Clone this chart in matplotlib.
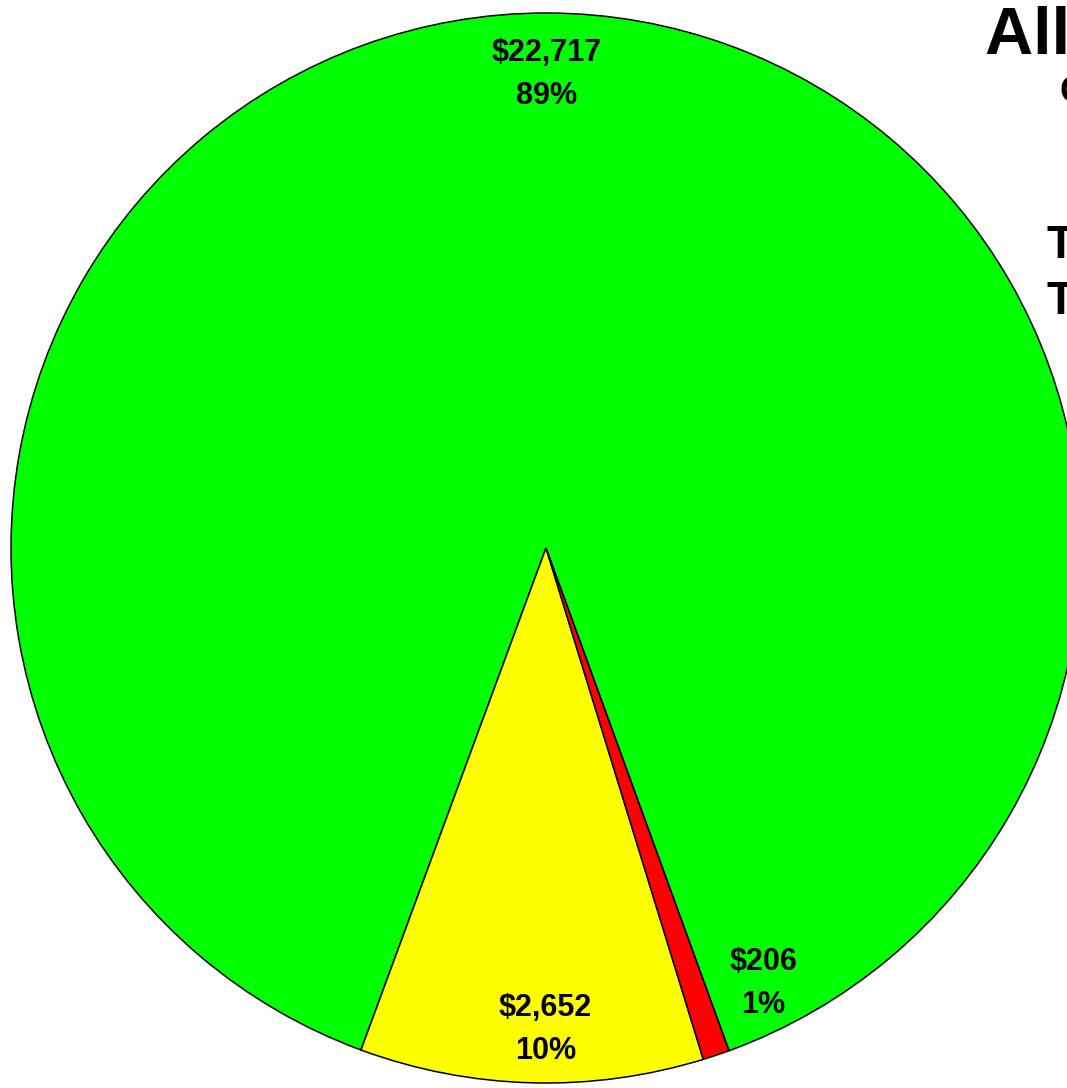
import numpy as np
import matplotlib
matplotlib.use("Agg")
import matplotlib.pyplot as plt

categories = ["Under Budget", "Near Budget", "Over Budget"]
values = [22717, 2652, 206]
colors = ["#00FF00", "#FFFF00", "#FF0000"]
title_lines = ["All Accounts", "Current Month"]
info_lines = ["Total Budget: $25,575", "Total Spent: $25,575"]

plt.rcParams['font.family'] = ['Liberation Sans', 'DejaVu Sans']

W, H = 1067, 1088
fig = plt.figure(figsize=(W / 100, H / 100), dpi=100)
ax = fig.add_axes([0, 0, 1, 1])
R = 535.0
cx, cy = 546.0, 540.0

start = 290.0
wedges, _ = ax.pie(values, colors=colors, startangle=start, counterclock=True,
                   radius=1.0, center=(0, 0), frame=False,
                   wedgeprops=dict(edgecolor='black', linewidth=1.1))
ax.set_xlim(-cx / R, (W - cx) / R)
ax.set_ylim(-cy / R, (H - cy) / R)
ax.set_aspect('auto')
ax.axis('off')

total = sum(values)
label_offsets = [0.0, 1.5, 8.0]
label_dist = [0.885, 0.90, 0.91]
for w, v, off, d in zip(wedges, values, label_offsets, label_dist):
    mid = np.deg2rad((w.theta1 + w.theta2) / 2 + off)
    pct = round(100 * v / total)
    ax.text(d * np.cos(mid), d * np.sin(mid), f"${v:,}\n{pct}%",
            ha='center', va='center', fontsize=22, fontweight='bold',
            linespacing=1.55, color='black')

# Right-side titles (partially cut off by the figure edge, as in the reference)
fig.text(985 / W, 1 - 36 / H, title_lines[0], fontsize=48, fontweight='bold',
         ha='left', va='center')
fig.text(1060 / W, 1 - 93 / H, title_lines[1], fontsize=26, fontweight='bold',
         ha='left', va='center')
fig.text(1047 / W, 1 - 246 / H, info_lines[0], fontsize=33, fontweight='bold',
         ha='left', va='center')
fig.text(1047 / W, 1 - 301 / H, info_lines[1], fontsize=33, fontweight='bold',
         ha='left', va='center')

fig.savefig("out.png", dpi=100, facecolor='white')
